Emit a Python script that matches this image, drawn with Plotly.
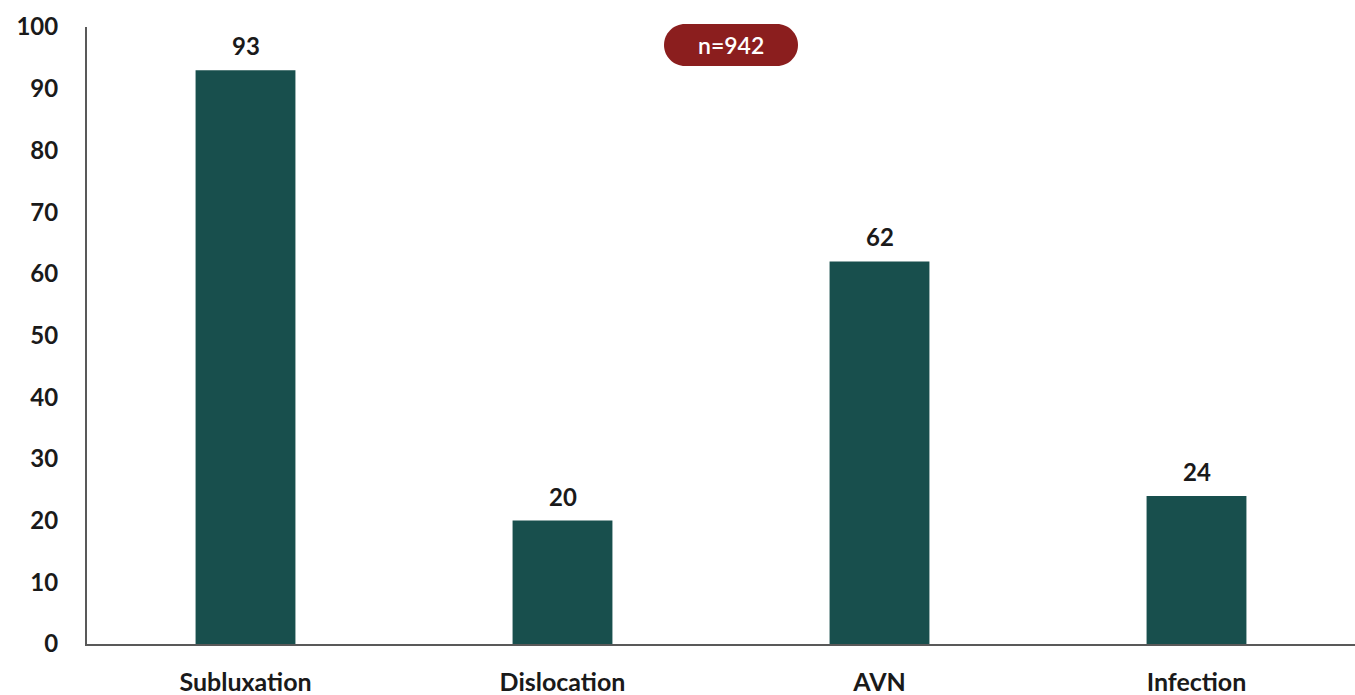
import plotly.graph_objects as go

categories = ["Subluxation", "Dislocation", "AVN", "Infection"]
values = [93, 20, 62, 24]
y_ticks = [0, 10, 20, 30, 40, 50, 60, 70, 80, 90, 100]
badge_text = "n=942"

FONT = "Lato"
TXT = "#1a1a1a"

fig = go.Figure(go.Bar(
    x=categories, y=values,
    marker=dict(color="#184F4D", line=dict(width=0)),
    cliponaxis=False,
))

for c, v in zip(categories, values):
    fig.add_annotation(x=c, y=v, text=str(v), showarrow=False, yanchor="bottom",
                       yshift=8, font=dict(family=FONT, size=24, color=TXT, weight="bold"))

fig.update_layout(
    width=1355, height=695,
    margin=dict(l=87, r=0, t=27, b=51),
    plot_bgcolor="white", paper_bgcolor="white",
    bargap=0.685, showlegend=False,
    font=dict(family=FONT, color=TXT),
    xaxis=dict(showline=True, linecolor="#595959", linewidth=2, showgrid=False,
               ticks="", tickfont=dict(family=FONT, size=25, color=TXT, weight="bold"),
               ticklabelstandoff=15, automargin=False),
    yaxis=dict(range=[0, 100], tickvals=y_ticks, showline=True, linecolor="#595959",
               linewidth=2, showgrid=False, zeroline=False, ticks="",
               tickfont=dict(family=FONT, size=24, color=TXT, weight="bold"),
               ticklabelstandoff=22, automargin=False),
)

# pill badge
hw, hh = 67, 21
r = hh
k = 0.5523 * r
s = hw - r
path = (f"M {-s},{-hh} L {s},{-hh} "
        f"C {s + k},{-hh} {hw},{-k} {hw},0 "
        f"C {hw},{k} {s + k},{hh} {s},{hh} "
        f"L {-s},{hh} "
        f"C {-s - k},{hh} {-hw},{k} {-hw},0 "
        f"C {-hw},{-k} {-s - k},{-hh} {-s},{-hh} Z")
cx = (731 - 87) / 1268
cy = (644 - 45) / 617
fig.add_shape(type="path", xref="paper", yref="paper", xsizemode="pixel", ysizemode="pixel",
              xanchor=cx, yanchor=cy, path=path, fillcolor="#8B1E1E", line=dict(width=0),
              layer="above")
fig.add_annotation(xref="paper", yref="paper", x=cx, y=cy, text=badge_text, showarrow=False,
                   font=dict(family=FONT, size=23, color="white", weight=600),
                   xanchor="center", yanchor="middle")

fig.write_html("out.html")
